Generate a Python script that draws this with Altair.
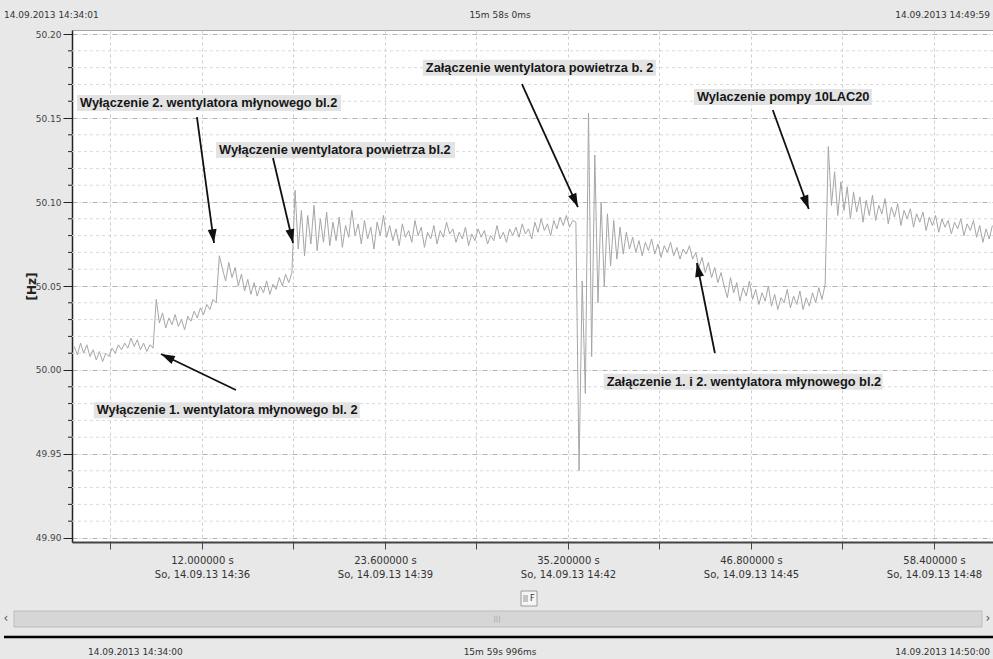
import math
import altair as alt
import pandas as pd

# ---------------------------------------------------------------------------
# Frequency record F [Hz], one sample every 0.2 s, first sample at 3.9 s
# ---------------------------------------------------------------------------
T_START = 3.9
T_STEP = 0.2

f_initial = [50.014, 50.009, 50.016, 50.010, 50.015, 50.008, 50.012, 50.006, 50.011, 50.005,
             50.010, 50.008, 50.013, 50.010, 50.015, 50.012, 50.016, 50.013, 50.019, 50.014,
             50.018, 50.012, 50.016, 50.011, 50.015, 50.013]
f_step1 = [50.042]
f_after_mill1 = [50.028, 50.034, 50.025, 50.031, 50.027, 50.033, 50.026, 50.030, 50.024, 50.032,
                 50.029, 50.035, 50.031, 50.037, 50.033, 50.039, 50.036, 50.042, 50.040]
f_step2 = [50.068]
f_after_mill2 = [50.060, 50.053, 50.064, 50.055, 50.061, 50.050, 50.057, 50.047, 50.054, 50.045,
                 50.052, 50.044, 50.050, 50.046, 50.053, 50.045, 50.051, 50.048, 50.055, 50.050,
                 50.057, 50.052, 50.058]
f_step3 = [50.107]
f_after_air_fan = [50.072, 50.095, 50.068, 50.092, 50.075, 50.098, 50.071, 50.090, 50.076, 50.094,
                   50.074,
                   50.088, 50.077, 50.091, 50.073, 50.086, 50.079, 50.095, 50.080, 50.087, 50.075,
                   50.089, 50.078, 50.085, 50.072, 50.088, 50.080, 50.092, 50.079, 50.086,
                   50.077, 50.084, 50.074, 50.087, 50.079, 50.083, 50.076, 50.089, 50.080, 50.085,
                   50.073, 50.082, 50.078, 50.086, 50.075, 50.083, 50.079, 50.088, 50.081, 50.084,
                   50.076, 50.082, 50.078, 50.085, 50.074, 50.081, 50.077, 50.084, 50.079, 50.083,
                   50.075, 50.080, 50.077, 50.086, 50.078, 50.082, 50.076, 50.084, 50.080, 50.085,
                   50.079, 50.087, 50.081, 50.084, 50.078, 50.088, 50.082, 50.090, 50.083, 50.087,
                   50.080, 50.089, 50.084, 50.091, 50.086, 50.092, 50.085, 50.089]
f_air_fan_on = [50.088, 49.940, 50.053, 49.986, 50.153, 50.008, 50.128, 50.040, 50.100, 50.050,
                50.093, 50.062, 50.089, 50.066, 50.085, 50.069, 50.082]
f_settled = [50.072, 50.079, 50.070, 50.077, 50.068, 50.076, 50.071, 50.078, 50.069, 50.075,
             50.067, 50.074, 50.070, 50.076, 50.068, 50.073, 50.066, 50.072, 50.069, 50.074]
f_mills_on = [50.066, 50.070, 50.061, 50.067, 50.058, 50.064, 50.055, 50.061, 50.052, 50.058]
f_low = [50.050, 50.043, 50.055, 50.046, 50.052, 50.041, 50.049, 50.044, 50.053, 50.042,
         50.048, 50.039, 50.046, 50.041, 50.050, 50.038, 50.045, 50.036, 50.043, 50.040,
         50.048, 50.037, 50.044, 50.039, 50.047, 50.036, 50.043, 50.038, 50.046, 50.040,
         50.049, 50.042, 50.051]
f_step4 = [50.133]
f_after_pump = [50.098, 50.118, 50.092, 50.112, 50.095, 50.109, 50.090, 50.106, 50.094, 50.103,
                50.088, 50.101, 50.092, 50.104, 50.089, 50.098, 50.093, 50.102, 50.087, 50.097,
                50.091, 50.099, 50.086, 50.095, 50.090, 50.096, 50.085, 50.093, 50.088, 50.094,
                50.083, 50.091, 50.086, 50.092, 50.082, 50.090, 50.085, 50.089, 50.081, 50.088,
                50.084, 50.090, 50.080, 50.087, 50.083, 50.089, 50.079, 50.086, 50.076, 50.084,
                50.078, 50.086]

freq = (f_initial + f_step1 + f_after_mill1 + f_step2 + f_after_mill2 + f_step3
        + f_after_air_fan + f_air_fan_on + f_settled + f_mills_on + f_low + f_step4
        + f_after_pump)
time_s = [round(T_START + T_STEP * i, 2) for i in range(len(freq))]
trace = pd.DataFrame({"t": time_s, "F": freq})

# axis ticks / labels
x_major = [12.0, 23.6, 35.2, 46.8, 58.4]
x_minor = [6.2, 17.8, 29.4, 41.0, 52.6]
x_dates = ["So, 14.09.13 14:36", "So, 14.09.13 14:39", "So, 14.09.13 14:42",
           "So, 14.09.13 14:45", "So, 14.09.13 14:48"]
y_major = [49.90, 49.95, 50.00, 50.05, 50.10, 50.15, 50.20]
y_minor = [49.91, 49.92, 49.93, 49.94, 49.96, 49.97, 49.98, 49.99,
           50.01, 50.02, 50.03, 50.04, 50.06, 50.07, 50.08, 50.09,
           50.11, 50.12, 50.13, 50.14, 50.16, 50.17, 50.18, 50.19]

# event annotations: label anchor (left, middle), arrow start and arrow tip
ev_text = ["Wyłączenie 2. wentylatora młynowego bl.2",
           "Wyłączenie wentylatora powietrza bl.2",
           "Załączenie wentylatora powietrza b. 2",
           "Wylaczenie pompy 10LAC20",
           "Wyłączenie 1. wentylatora młynowego bl. 2",
           "Załączenie 1. i 2. wentylatora młynowego bl.2"]
ev_label_t = [4.27, 13.08, 26.19, 43.37, 5.33, 37.65]
ev_label_f = [50.159, 50.131, 50.180, 50.1625, 49.976, 49.993]
ev_start_t = [11.68, 16.50, 32.28, 48.18, 14.15, 44.51]
ev_start_f = [50.1506, 50.1262, 50.1702, 50.1548, 49.9881, 50.0101]
ev_tip_t = [12.76, 17.77, 35.83, 50.46, 9.40, 43.37]
ev_tip_f = [50.0756, 50.0756, 50.0970, 50.0958, 50.0095, 50.0637]

# ---------------------------------------------------------------------------
# layout
# ---------------------------------------------------------------------------
PAD_L, PAD_T = 72, 30
W, H = 921, 512
X_DOM = [3.76, 62.14]
Y_DOM = [49.8976, 50.2024]
PX_PER_S = W / (X_DOM[1] - X_DOM[0])
PX_PER_HZ = H / (Y_DOM[1] - Y_DOM[0])

LABEL_FS = 12.8
LABEL_W = [258, 233, 227, 172, 260, 273]   # rendered label widths in px
BOX_PAD = 3
BOX_HALF_H = 8

xs = alt.Scale(domain=X_DOM, nice=False, zero=False)
ys = alt.Scale(domain=Y_DOM, nice=False, zero=False)

x_label_expr = "''"
for v, d in reversed(list(zip(x_major, x_dates))):
    x_label_expr = (f"abs(datum.value - {v}) < 0.01 ? "
                    f"[format(datum.value, '.6f') + ' s', '{d}'] : " + x_label_expr)

x_axis = alt.Axis(
    values=x_major + x_minor, labelExpr=x_label_expr, title=None,
    labelFont="DejaVu Sans", labelFontSize=10, labelColor="#333333",
    labelLineHeight=14, labelPadding=6, labelOverlap=False, labelFlush=False,
    tickSize=7, tickColor="#444444", domainColor="#444444", domainWidth=2,
    grid=True, gridColor="#cdcdcd", gridDash=[3, 3], gridWidth=1,
)
y_axis = alt.Axis(
    values=y_major, format=".2f", title="[Hz]",
    labelFont="DejaVu Sans", labelFontSize=9, labelColor="#444444",
    labelPadding=2, labelOverlap=False, labelFlush=False,
    tickSize=9, tickColor="#222222", domainColor="#222222", domainWidth=1.5,
    grid=True, gridColor="#b3b3b3", gridDash=[5, 2, 1, 2], gridWidth=1,
    titleFont="DejaVu Sans", titleFontSize=12, titleFontWeight="bold", titleColor="#222222",
    titleX=31 - PAD_L, titleY=H / 2, titleAlign="center", titleBaseline="middle",
)


def X(field):
    return alt.X(field, type="quantitative", scale=xs, axis=x_axis)


def Y(field):
    return alt.Y(field, type="quantitative", scale=ys, axis=y_axis)


# minor horizontal grid and minor ticks on the frequency axis
minor = pd.DataFrame({"F": y_minor})
minor_grid = alt.Chart(minor).mark_rule(color="#d9d9d9", strokeWidth=1, strokeDash=[3, 3]).encode(
    y=Y("F"), x=alt.value(0), x2=alt.value(W),
)
minor_ticks = alt.Chart(minor).mark_rule(color="#222222", strokeWidth=1).encode(
    y=Y("F"), x=alt.value(-4), x2=alt.value(0),
)

line = alt.Chart(trace).mark_line(color="#a6a6a6", strokeWidth=1, interpolate="linear").encode(
    x=X("t"), y=Y("F"),
)

# annotation table
ang = []
for st, sf, tt, tf in zip(ev_start_t, ev_start_f, ev_tip_t, ev_tip_f):
    dx = (tt - st) * PX_PER_S
    dy = -(tf - sf) * PX_PER_HZ
    ang.append(math.degrees(math.atan2(dx, -dy)) % 360)

ev = pd.DataFrame({
    "text": ev_text,
    "lt": ev_label_t, "lf": ev_label_f,
    "bx0": [t - BOX_PAD / PX_PER_S for t in ev_label_t],
    "bx1": [t + (w + BOX_PAD) / PX_PER_S for t, w in zip(ev_label_t, LABEL_W)],
    "by0": [f - BOX_HALF_H / PX_PER_HZ for f in ev_label_f],
    "by1": [f + BOX_HALF_H / PX_PER_HZ for f in ev_label_f],
    "st": ev_start_t, "sf": ev_start_f, "tt": ev_tip_t, "tf": ev_tip_f,
    "ang": ang,
})

boxes = alt.Chart(ev).mark_rect(color="#e3e3e3").encode(
    x=X("bx0"), x2="bx1:Q", y=Y("by0"), y2="by1:Q",
)
labels = alt.Chart(ev).mark_text(
    align="left", baseline="middle", font="Liberation Sans", fontWeight="bold",
    fontSize=LABEL_FS, color="#161616",
).encode(x=X("lt"), y=Y("lf"), text="text:N")

shafts = alt.Chart(ev).mark_rule(color="#111111", strokeWidth=1.8).encode(
    x=X("st"), y=Y("sf"), x2="tt:Q", y2="tf:Q",
)
heads = alt.Chart(ev).mark_point(
    shape="M0,0 L-0.65,2 L0.65,2 Z", filled=True, color="#111111", opacity=1, size=190,
).encode(
    x=X("tt"), y=Y("tf"), angle=alt.Angle("ang:Q", scale=None),
)

# ---------------------------------------------------------------------------
# window furniture around the plot (absolute page pixels)
# ---------------------------------------------------------------------------
ONE = alt.Data(values=[{"k": 0}])


def page_text(txt, px, py, align="left", size=9, color="#333333", weight="normal"):
    return alt.Chart(ONE).mark_text(
        text=txt, align=align, baseline="middle", font="DejaVu Sans",
        fontSize=size, color=color, fontWeight=weight,
    ).encode(x=alt.value(px - PAD_L), y=alt.value(py - PAD_T))


def page_rect(x0, x1, y0, y1, fill, stroke=None):
    kw = {"color": fill}
    if stroke:
        kw.update(stroke=stroke, strokeWidth=1)
    return alt.Chart(ONE).mark_rect(**kw).encode(
        x=alt.value(x0 - PAD_L), x2=alt.value(x1 - PAD_L),
        y=alt.value(y0 - PAD_T), y2=alt.value(y1 - PAD_T),
    )


furniture = [
    page_text("14.09.2013 14:34:01", 4, 15),
    page_text("15m 58s 0ms", 500, 15, align="center"),
    page_text("14.09.2013 14:49:59", 990, 15, align="right"),
    # legend entry
    page_rect(521, 537, 591, 606, "#f5f5f5", "#9a9a9a"),
    page_rect(523, 528, 595, 602, "#c4c4c4"),
    page_text("F", 530, 599, size=8),
    # scroll bar
    page_rect(14, 982, 611, 627, "#d6d6d6", "#bcbcbc"),
    page_text("|||", 497, 619, align="center", size=7, color="#a0a0a0"),
    page_text("‹", 6, 618, align="center", size=12, color="#555555"),
    page_text("›", 988, 618, align="center", size=12, color="#555555"),
    # overview strip
    alt.Chart(ONE).mark_rule(color="#000000", strokeWidth=2.5).encode(
        x=alt.value(4 - PAD_L), x2=alt.value(993 - PAD_L), y=alt.value(637 - PAD_T)),
    page_text("14.09.2013 14:34:00", 88, 652),
    page_text("15m 59s 996ms", 500, 652, align="center"),
    page_text("14.09.2013 14:50:00", 990, 652, align="right"),
]

chart = alt.layer(minor_grid, minor_ticks, line, boxes, labels, shafts, heads, *furniture).properties(
    width=W, height=H,
    padding={"left": PAD_L, "top": PAD_T, "right": 0, "bottom": 659 - PAD_T - H},
    autosize=alt.AutoSizeParams(type="none"),
    background="#e8e8e8",
).configure_view(fill="#ffffff", stroke="#a5a5a5", strokeWidth=1)

chart.save("out.html", embed_options={"renderer": "svg", "actions": False})
